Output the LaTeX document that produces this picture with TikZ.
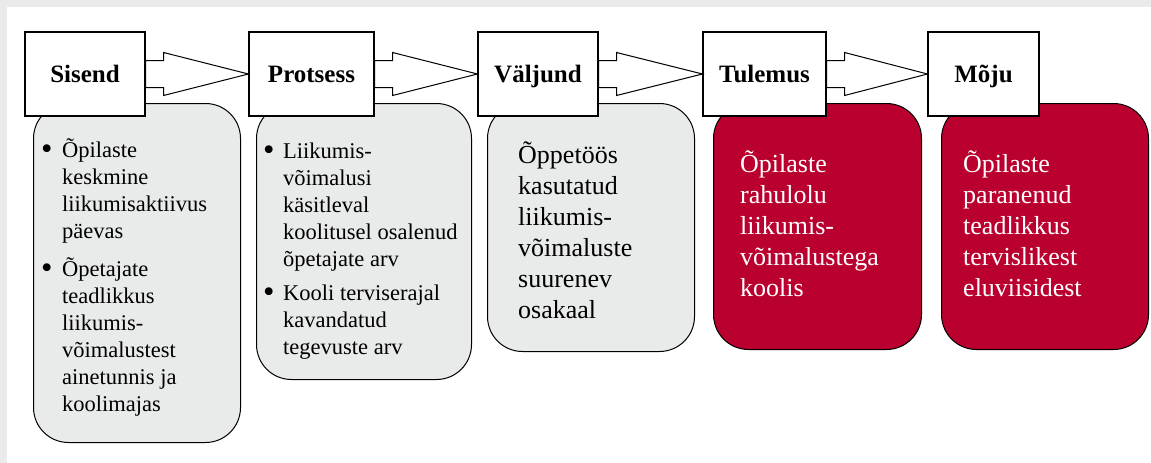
\documentclass[tikz,border=0pt]{standalone}
\usepackage{fontspec}
\setmainfont{Liberation Serif}
\usetikzlibrary{calc}

\definecolor{pagegray}{RGB}{234,234,234}
\definecolor{boxgray}{RGB}{233,234,234}
\definecolor{wine}{RGB}{186,0,46}

\newcommand{\headfont}{\fontsize{25}{30}\selectfont\bfseries}
\newcommand{\listfont}{\fontsize{22.5}{27}\selectfont}
\newcommand{\plainfont}{\fontsize{26}{31}\selectfont}
\newcommand{\dotmark}{\raisebox{-2.5pt}{\scalebox{1.45}{\textbullet}}}

% block arrow from one header box to the next
\newcommand{\flowarrow}[2]{%
  \draw[arrowshape] ([yshift=13.5pt]#1.east) -- ++(18pt,0) -- ++(0,8pt)
    -- (#2.west) -- ([xshift=18pt,yshift=-21.5pt]#1.east) -- ++(0,8pt)
    -- ([yshift=-13.5pt]#1.east) -- cycle;}

\begin{document}
\begin{tikzpicture}[x=1pt, y=-1pt,
  headbox/.style={draw, fill=white, line width=1.1pt, minimum height=84pt,
    inner sep=0pt, text height=17pt, text depth=0pt, font=\headfont},
  contentbox/.style={draw, line width=1pt, rounded corners=35pt,
    anchor=north west, inner sep=0pt},
  graybox/.style={contentbox, fill=boxgray},
  redbox/.style={contentbox, fill=wine},
  listtext/.style={anchor=base west, inner sep=0pt, font=\listfont},
  plaintext/.style={anchor=base west, inner sep=0pt, font=\plainfont},
  arrowshape/.style={draw, fill=white, line width=1pt, line join=miter}]

% Page
\useasboundingbox (0,0) rectangle (1151,463);
\fill[pagegray] (0,0) rectangle (1151,463);
\fill[white] (7,7) rectangle (1151,463);

% Content boxes
\node[graybox, minimum width=207pt, minimum height=339pt] (sisendbox) at (33,103) {};
\node[graybox, minimum width=215pt, minimum height=276pt] (protsessbox) at (256,103) {};
\node[graybox, minimum width=207pt, minimum height=248pt] (valjundbox) at (487,103) {};
\node[redbox, minimum width=208pt, minimum height=246pt] (tulemusbox) at (713,103) {};
\node[redbox, minimum width=207pt, minimum height=246pt] (mojubox) at (941,103) {};

% Texts in the boxes
\node[listtext] (sisendtxt) at (41,157) {%
  \begin{tabular}[t]{@{}p{21pt}@{}l@{}}
  \dotmark & Õpilaste\\
   & keskmine\\
   & liikumisaktiivus\\
   & päevas\\[11pt]
  \dotmark & Õpetajate\\
   & teadlikkus\\
   & liikumis-\\
   & võimalustest\\
   & ainetunnis ja\\
   & koolimajas
  \end{tabular}};
\node[listtext] (protsesstxt) at (263,158) {%
  \begin{tabular}[t]{@{}p{20pt}@{}l@{}}
  \dotmark & Liikumis-\\
   & võimalusi\\
   & käsitleval\\
   & koolitusel osalenud\\
   & õpetajate arv\\[7pt]
  \dotmark & Kooli terviserajal\\
   & kavandatud\\
   & tegevuste arv
  \end{tabular}};
\node[plaintext] (valjundtxt) at (518,163) {%
  \begin{tabular}[t]{@{}l@{}}
  Õppetöös\\kasutatud\\liikumis-\\võimaluste\\suurenev\\osakaal
  \end{tabular}};
\node[plaintext, text=white] (tulemustxt) at (740,172) {%
  \begin{tabular}[t]{@{}l@{}}
  Õpilaste\\rahulolu\\liikumis-\\võimalustega\\koolis
  \end{tabular}};
\node[plaintext, text=white] (mojutxt) at (963,172) {%
  \begin{tabular}[t]{@{}l@{}}
  Õpilaste\\paranenud\\teadlikkus\\tervislikest\\eluviisidest
  \end{tabular}};

% Header boxes
\node[headbox, minimum width=120pt] (sisend) at (85,74) {Sisend};
\node[headbox, minimum width=125pt] (protsess) at (311.5,74) {Protsess};
\node[headbox, minimum width=120pt] (valjund) at (538,74) {Väljund};
\node[headbox, minimum width=123pt] (tulemus) at (764.5,74) {Tulemus};
\node[headbox, minimum width=111pt] (moju) at (983.5,74) {Mõju};

% Arrows
\flowarrow{sisend}{protsess}
\flowarrow{protsess}{valjund}
\flowarrow{valjund}{tulemus}
\flowarrow{tulemus}{moju}

\end{tikzpicture}
\end{document}
